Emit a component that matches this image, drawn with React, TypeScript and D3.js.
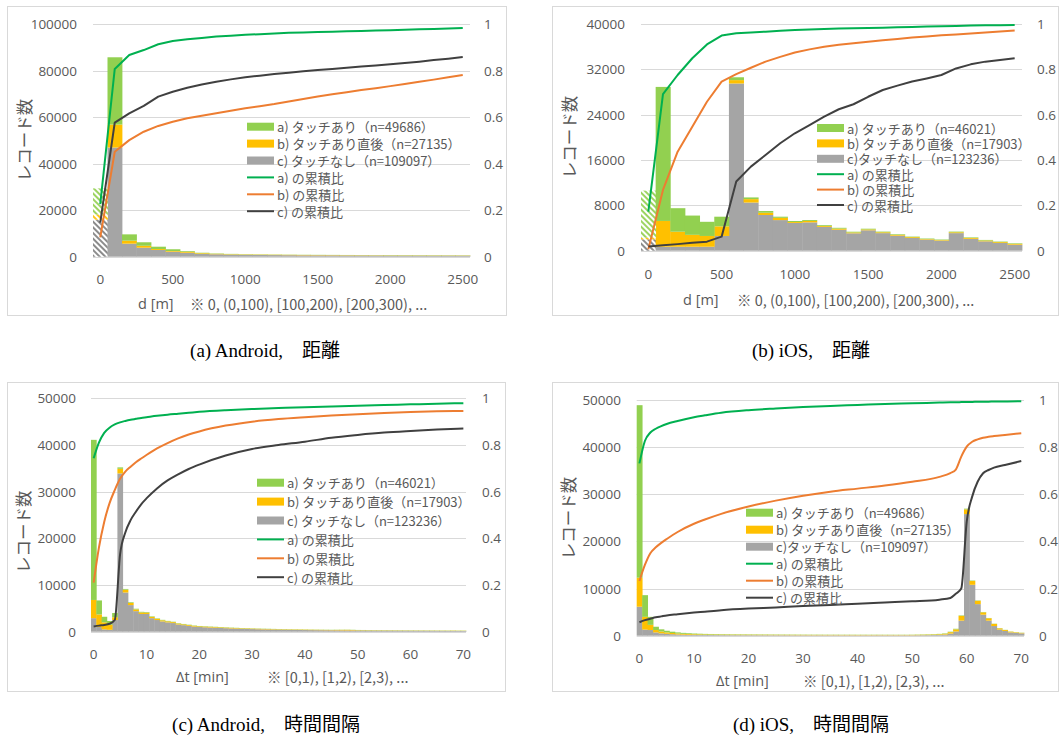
import React from 'react';
import * as d3 from 'd3';

// ---------- categories ----------
const distBins = [0, 100, 200, 300, 400, 500, 600, 700, 800, 900, 1000, 1100, 1200, 1300, 1400, 1500, 1600, 1700, 1800, 1900, 2000, 2100, 2200, 2300, 2400, 2500];
const timeBins = [0, 1, 2, 3, 4, 5, 6, 7, 8, 9, 10, 11, 12, 13, 14, 15, 16, 17, 18, 19, 20, 21, 22, 23, 24, 25, 26, 27, 28, 29, 30, 31, 32, 33, 34, 35, 36, 37, 38, 39, 40, 41, 42, 43, 44, 45, 46, 47, 48, 49, 50, 51, 52, 53, 54, 55, 56, 57, 58, 59, 60, 61, 62, 63, 64, 65, 66, 67, 68, 69, 70];

// ---------- tick labels ----------
const distXTicks = [0, 500, 1000, 1500, 2000, 2500];
const timeXTicks = [0, 10, 20, 30, 40, 50, 60, 70];
const andDistYTicks = [0, 20000, 40000, 60000, 80000, 100000];
const iosDistYTicks = [0, 8000, 16000, 24000, 32000, 40000];
const timeYTicks = [0, 10000, 20000, 30000, 40000, 50000];
const ratioTicks = [0, 0.2, 0.4, 0.6, 0.8, 1];

// ---------- (a) Android, distance ----------
const andDistA = [11200, 28900, 2700, 1500, 1000, 750, 300, 200, 150, 130, 110, 100, 95, 90, 85, 80, 80, 75, 75, 70, 110, 105, 100, 100, 95, 90];
const andDistB = [2250, 9900, 1300, 830, 400, 300, 450, 300, 200, 180, 170, 160, 150, 150, 145, 140, 135, 130, 130, 125, 120, 120, 115, 115, 110, 110];
const andDistC = [15900, 46900, 5600, 3870, 2900, 2150, 1700, 1200, 1050, 900, 800, 750, 700, 650, 600, 580, 560, 540, 520, 500, 480, 470, 460, 450, 440, 430];
const andDistCumA = [0.226, 0.807, 0.867, 0.888, 0.913, 0.927, 0.934, 0.940, 0.946, 0.950, 0.954, 0.956, 0.959, 0.962, 0.964, 0.966, 0.967, 0.969, 0.970, 0.972, 0.973, 0.975, 0.977, 0.979, 0.981, 0.983];
const andDistCumB = [0.083, 0.451, 0.501, 0.537, 0.562, 0.580, 0.595, 0.606, 0.616, 0.627, 0.638, 0.647, 0.656, 0.667, 0.678, 0.688, 0.698, 0.707, 0.716, 0.724, 0.733, 0.742, 0.752, 0.761, 0.771, 0.781];
const andDistCumC = [0.146, 0.576, 0.616, 0.648, 0.688, 0.709, 0.726, 0.740, 0.752, 0.762, 0.771, 0.778, 0.785, 0.791, 0.797, 0.802, 0.807, 0.812, 0.817, 0.822, 0.827, 0.832, 0.838, 0.845, 0.851, 0.858];

// ---------- (b) iOS, distance ----------
const iosDistA = [8300, 23650, 4150, 3400, 2500, 1700, 500, 300, 300, 200, 180, 160, 150, 140, 130, 130, 120, 110, 100, 100, 100, 120, 100, 100, 100, 100];
const iosDistB = [300, 4550, 2650, 2100, 1900, 1700, 600, 600, 400, 400, 160, 250, 150, 200, 150, 150, 150, 150, 150, 100, 100, 150, 150, 150, 150, 150];
const iosDistC = [2000, 700, 700, 700, 700, 2600, 29500, 8500, 6300, 5400, 4900, 5000, 4200, 3700, 3070, 3600, 3100, 2650, 2240, 1950, 1770, 3100, 2100, 1650, 1360, 1060];
const iosDistCumA = [0.172, 0.691, 0.775, 0.849, 0.910, 0.949, 0.959, 0.963, 0.966, 0.970, 0.974, 0.976, 0.978, 0.980, 0.981, 0.982, 0.984, 0.986, 0.987, 0.989, 0.990, 0.991, 0.993, 0.994, 0.995, 0.996];
const iosDistCumB = [0.006, 0.268, 0.437, 0.547, 0.657, 0.746, 0.779, 0.807, 0.834, 0.855, 0.874, 0.888, 0.900, 0.908, 0.915, 0.922, 0.928, 0.934, 0.940, 0.945, 0.950, 0.954, 0.958, 0.963, 0.967, 0.971];
const iosDistCumC = [0.018, 0.024, 0.029, 0.035, 0.040, 0.062, 0.305, 0.371, 0.422, 0.474, 0.518, 0.554, 0.591, 0.624, 0.646, 0.679, 0.709, 0.728, 0.746, 0.760, 0.775, 0.804, 0.822, 0.834, 0.841, 0.849];

// ---------- (c) Android, time interval ----------
const andTimeA = [34300, 3000, 1200, 800, 900, 300, 160, 150, 140, 130, 120, 110, 100, 100, 95, 90, 85, 80, 80, 75, 75,
  70, 70, 68, 66, 64, 62, 60, 58, 56, 55, 54, 53, 52, 51, 50, 50, 49, 48, 47, 46,
  45, 45, 44, 44, 43, 43, 42, 42, 41, 41, 40, 40, 40, 40, 40, 40, 40, 40, 40, 40,
  40, 40, 40, 40, 40, 40, 40, 40, 40, 40];
const andTimeB = [3900, 2700, 1500, 1100, 600, 1000, 600, 450, 380, 330, 300, 280, 260, 240, 220, 200, 190, 180, 170, 160, 150,
  145, 140, 135, 130, 125, 120, 115, 110, 105, 100, 98, 96, 94, 92, 90, 88, 86, 84, 82, 80,
  78, 76, 74, 72, 70, 90, 110, 120, 100, 70, 68, 66, 64, 62, 60, 58, 56, 54, 52, 50,
  50, 50, 48, 48, 46, 46, 44, 60, 44, 42];
const andTimeC = [2900, 1000, 500, 400, 2500, 33900, 8400, 5700, 4400, 3800, 3800, 2900, 2500, 2200, 2000, 1850, 1550, 1400, 1250, 1100, 1000,
  950, 900, 850, 800, 750, 700, 660, 620, 590, 560, 530, 500, 480, 460, 440, 420, 400, 385, 370, 355,
  340, 330, 320, 310, 300, 290, 280, 275, 270, 265, 260, 250, 245, 240, 235, 230, 225, 220, 215, 210,
  205, 200, 195, 190, 185, 180, 175, 170, 165, 160];
const andTimeCumX = [0, 1, 2, 3, 4, 5, 6, 7, 8, 9, 10, 12, 14, 16, 18, 20, 25, 30, 35, 40, 45, 50, 55, 60, 65, 70];
const andTimeCumA = [0.743, 0.810, 0.852, 0.874, 0.888, 0.897, 0.903, 0.908, 0.912, 0.916, 0.919, 0.925, 0.930, 0.934, 0.938, 0.942, 0.949, 0.954, 0.958, 0.962, 0.965, 0.968, 0.971, 0.974, 0.977, 0.979];
const andTimeCumB = [0.210, 0.360, 0.470, 0.550, 0.607, 0.655, 0.686, 0.707, 0.726, 0.742, 0.757, 0.785, 0.808, 0.828, 0.845, 0.858, 0.883, 0.900, 0.911, 0.919, 0.926, 0.932, 0.937, 0.941, 0.944, 0.946];
const andTimeCumC = [0.022, 0.026, 0.029, 0.034, 0.050, 0.330, 0.425, 0.478, 0.514, 0.546, 0.571, 0.614, 0.648, 0.674, 0.697, 0.716, 0.755, 0.783, 0.800, 0.814, 0.831, 0.843, 0.853, 0.860, 0.866, 0.871];

// ---------- (d) iOS, time interval ----------
const iosTimeA = [36600, 4600, 1700, 700, 450, 350, 280, 230, 200, 170, 150,
  130, 115, 105, 95, 90, 85, 80, 78, 76, 74,
  72, 70, 68, 66, 64, 62, 60, 58, 56, 55,
  54, 53, 52, 51, 50, 50, 49, 49, 48, 48,
  47, 47, 46, 46, 45, 45, 44, 44, 43, 50,
  55, 60, 65, 70, 80, 90, 100, 120, 100, 150,
  100, 80, 70, 60, 50, 50, 45, 45, 40, 40];
const iosTimeB = [6150, 2700, 1100, 500, 400, 300, 250, 210, 180, 160, 140,
  130, 120, 115, 110, 105, 100, 98, 96, 94, 92,
  90, 88, 86, 84, 82, 80, 79, 78, 77, 76,
  75, 74, 73, 72, 71, 70, 70, 69, 69, 68,
  68, 67, 67, 66, 66, 65, 65, 64, 64, 70,
  80, 90, 100, 110, 130, 160, 300, 450, 1000, 1000,
  800, 700, 500, 500, 450, 260, 200, 150, 120, 100];
const iosTimeC = [6150, 1300, 1200, 700, 500, 400, 320, 260, 220, 190, 170,
  160, 150, 145, 140, 135, 130, 128, 126, 124, 122,
  120, 118, 116, 114, 112, 110, 108, 106, 104, 102,
  100, 98, 102, 97, 99, 101, 96, 98, 100, 95,
  100, 97, 99, 102, 98, 100, 97, 101, 99, 100,
  110, 120, 130, 150, 180, 250, 450, 900, 3200, 25800,
  10800, 6700, 4460, 3200, 2050, 1300, 1000, 700, 580, 500];
const iosTimeCumX = [0, 1, 2, 3, 4, 5, 7, 10, 12, 15, 20, 25, 30, 35, 40, 45, 50, 55, 57, 58, 59, 60, 61, 62, 63, 64, 65, 67, 70];
const iosTimeCumA = [0.731, 0.826, 0.862, 0.878, 0.889, 0.898, 0.911, 0.927, 0.935, 0.946, 0.957, 0.964, 0.970, 0.975, 0.979, 0.983, 0.986, 0.989, 0.990, 0.990, 0.991, 0.992, 0.992, 0.993, 0.993, 0.993, 0.994, 0.994, 0.995];
const iosTimeCumB = [0.232, 0.300, 0.350, 0.375, 0.394, 0.410, 0.440, 0.475, 0.493, 0.517, 0.548, 0.573, 0.594, 0.611, 0.624, 0.637, 0.653, 0.674, 0.690, 0.705, 0.760, 0.802, 0.823, 0.833, 0.840, 0.844, 0.847, 0.852, 0.859];
const iosTimeCumC = [0.057, 0.066, 0.072, 0.078, 0.082, 0.086, 0.091, 0.098, 0.102, 0.108, 0.115, 0.120, 0.126, 0.130, 0.136, 0.141, 0.146, 0.153, 0.160, 0.178, 0.200, 0.484, 0.590, 0.653, 0.689, 0.703, 0.713, 0.724, 0.741];

// ---------- legend labels ----------
const legendAndDist = ['a) タッチあり（n=49686）', 'b) タッチあり直後（n=27135）', 'c) タッチなし（n=109097）'];
const legendIosDist = ['a) タッチあり（n=46021）', 'b) タッチあり直後（n=17903）', 'c)タッチなし（n=123236）'];
const legendAndTime = ['a) タッチあり（n=46021）', 'b) タッチあり直後（n=17903）', 'c) タッチなし（n=123236）'];
const legendIosTime = ['a) タッチあり（n=49686）', 'b) タッチあり直後（n=27135）', 'c)タッチなし（n=109097）'];
const legendCum = ['a) の累積比', 'b) の累積比', 'c) の累積比'];

// ---------- style ----------
const BAR_A = '#92D050';
const BAR_B = '#FFC000';
const BAR_C = '#A5A5A5';
const LINE_A = '#00B050';
const LINE_B = '#ED7D31';
const LINE_C = '#404040';
const GRID = '#D9D9D9';
const TXT = '#595959';
const NUM_FONT = "'Open Sans', 'Noto Sans', sans-serif";
const JP_FONT = "'Noto Sans CJK JP', 'Noto Sans', sans-serif";
const CAP_FONT = "'Liberation Serif', 'Noto Sans CJK JP', serif";

type PanelCfg = {
  box: [number, number, number, number];
  x0: number; x1: number; yBase: number; yTop: number;
  bins: number[]; a: number[]; b: number[]; c: number[];
  hatchFirst: boolean;
  yMax: number; yTicks: number[]; xTicks: number[];
  cumX: number[]; cumA: number[]; cumB: number[]; cumC: number[];
  smooth: boolean;
  leftLabelX: number; rightLabelX: number; xTickY: number;
  yTitleX: number; yTitleY: number;
  xTitle1: string; xTitle2: string; xTitleX1: number; xTitleX2: number; xTitleY: number;
  legend: string[]; legX: number; legY: number; legStep: number;
  caption: string; capX: number; capY: number;
};

const Panel = ({ p }: { p: PanelCfg }) => {
  const step = p.bins[1] - p.bins[0];
  const x = d3.scaleLinear().domain([p.bins[0] - step / 2, p.bins[p.bins.length - 1] + step / 2]).range([p.x0, p.x1]);
  const yL = d3.scaleLinear().domain([0, p.yMax]).range([p.yBase, p.yTop]);
  const yR = d3.scaleLinear().domain([0, 1]).range([p.yBase, p.yTop]);
  const rows = p.bins.map((bin, i) => ({ bin, a: p.a[i], b: p.b[i], c: p.c[i] }));
  const stacked = d3.stack<any>().keys(['c', 'b', 'a'])(rows);
  const colors: Record<string, string> = { a: BAR_A, b: BAR_B, c: BAR_C };
  const line = d3.line<[number, number]>()
    .x(d => x(d[0]))
    .y(d => yR(d[1]))
    .curve(p.smooth ? d3.curveMonotoneX : d3.curveLinear);
  const mk = (vals: number[]) => p.cumX.map((cx, i) => [cx, vals[i]] as [number, number]);
  const [bx0, by0, bx1, by1] = p.box;
  const swW = 27;
  return (
    <g>
      <rect x={bx0 + 0.5} y={by0 + 0.5} width={bx1 - bx0} height={by1 - by0} fill="#fff" stroke={GRID} strokeWidth={1} />
      {p.yTicks.map(t => (
        <line key={'g' + t} x1={p.x0} x2={p.x1} y1={Math.round(yL(t)) + 0.5} y2={Math.round(yL(t)) + 0.5} stroke={GRID} strokeWidth={1} />
      ))}
      {stacked.map(s => (
        <g key={s.key}>
          {s.map((d, i) => {
            const bin = p.bins[i];
            const left = x(bin - step / 2);
            const right = x(bin + step / 2);
            const top = yL(d[1]);
            const bottom = yL(d[0]);
            const fill = p.hatchFirst && i === 0 ? `url(#hatch-${s.key})` : colors[s.key];
            return <rect key={i} x={left} width={right - left + 0.4} y={top} height={Math.max(0, bottom - top)} fill={fill} />;
          })}
        </g>
      ))}
      <path d={line(mk(p.cumB)) || ''} fill="none" stroke={LINE_B} strokeWidth={2} strokeLinejoin="round" />
      <path d={line(mk(p.cumC)) || ''} fill="none" stroke={LINE_C} strokeWidth={2} strokeLinejoin="round" />
      <path d={line(mk(p.cumA)) || ''} fill="none" stroke={LINE_A} strokeWidth={2} strokeLinejoin="round" />
      {p.yTicks.map(t => (
        <text key={'l' + t} x={p.leftLabelX} y={yL(t)} textAnchor="end" dominantBaseline="central" fontFamily={NUM_FONT} fontSize={13.5} fill={TXT}>{t}</text>
      ))}
      {ratioTicks.map(t => (
        <text key={'r' + t} x={p.rightLabelX} y={yR(t)} textAnchor="start" dominantBaseline="central" fontFamily={NUM_FONT} fontSize={13.5} fill={TXT}>{String(t)}</text>
      ))}
      {p.xTicks.map(t => (
        <text key={'x' + t} x={x(t)} y={p.xTickY} textAnchor="middle" dominantBaseline="central" fontFamily={NUM_FONT} fontSize={13.5} fill={TXT}>{t}</text>
      ))}
      <text x={p.xTitleX1} y={p.xTitleY} dominantBaseline="central" fontFamily={NUM_FONT} fontSize={14.5} fill={TXT}>{p.xTitle1}</text>
      <text x={p.xTitleX2} y={p.xTitleY} dominantBaseline="central" fontFamily={JP_FONT} fontSize={14.5} fill={TXT}>{p.xTitle2}</text>
      <text transform={`translate(${p.yTitleX},${p.yTitleY}) rotate(-90)`} textAnchor="middle" dominantBaseline="central" fontFamily={JP_FONT} fontSize={16.5} fill={TXT}>レコード数</text>
      {[BAR_A, BAR_B, BAR_C].map((c, i) => (
        <g key={'lb' + i}>
          <rect x={p.legX} y={p.legY + i * p.legStep - 4} width={swW} height={8} fill={c} />
          <text x={p.legX + swW + 3} y={p.legY + i * p.legStep} dominantBaseline="central" fontFamily={JP_FONT} fontSize={13} fill={TXT}>{p.legend[i]}</text>
        </g>
      ))}
      {[LINE_A, LINE_B, LINE_C].map((c, i) => (
        <g key={'ll' + i}>
          <line x1={p.legX} x2={p.legX + swW} y1={p.legY + (i + 3) * p.legStep} y2={p.legY + (i + 3) * p.legStep} stroke={c} strokeWidth={2} />
          <text x={p.legX + swW + 3} y={p.legY + (i + 3) * p.legStep} dominantBaseline="central" fontFamily={JP_FONT} fontSize={13} fill={TXT}>{legendCum[i]}</text>
        </g>
      ))}
      <text x={p.capX} y={p.capY} textAnchor="middle" dominantBaseline="central" fontFamily={CAP_FONT} fontSize={19} fill="#000">{p.caption}</text>
    </g>
  );
};

const panels: PanelCfg[] = [
  {
    box: [7, 6, 506, 315], x0: 93, x1: 470, yBase: 256.7, yTop: 24,
    bins: distBins, a: andDistA, b: andDistB, c: andDistC, hatchFirst: true,
    yMax: 100000, yTicks: andDistYTicks, xTicks: distXTicks,
    cumX: distBins, cumA: andDistCumA, cumB: andDistCumB, cumC: andDistCumC, smooth: false,
    leftLabelX: 77, rightLabelX: 484, xTickY: 279, yTitleX: 24, yTitleY: 140,
    xTitle1: 'd [m]', xTitle2: '※ 0, (0,100), [100,200), [200,300), ...', xTitleX1: 138, xTitleX2: 190, xTitleY: 303,
    legend: legendAndDist, legX: 247, legY: 126.7, legStep: 16.9,
    caption: '(a) Android,\u3000距離', capX: 265, capY: 350,
  },
  {
    box: [552, 6, 1058, 315], x0: 641, x1: 1022, yBase: 250.7, yTop: 24,
    bins: distBins, a: iosDistA, b: iosDistB, c: iosDistC, hatchFirst: true,
    yMax: 40000, yTicks: iosDistYTicks, xTicks: distXTicks,
    cumX: distBins, cumA: iosDistCumA, cumB: iosDistCumB, cumC: iosDistCumC, smooth: false,
    leftLabelX: 625, rightLabelX: 1037, xTickY: 274, yTitleX: 569, yTitleY: 137,
    xTitle1: 'd [m]', xTitle2: '※ 0, (0,100), [100,200), [200,300), ...', xTitleX1: 683, xTitleX2: 737, xTitleY: 299,
    legend: legendIosDist, legX: 817, legY: 128, legStep: 15.4,
    caption: '(b) iOS,\u3000距離', capX: 811, capY: 350,
  },
  {
    box: [7, 382, 505, 691], x0: 91, x1: 466, yBase: 631.7, yTop: 398.3,
    bins: timeBins, a: andTimeA, b: andTimeB, c: andTimeC, hatchFirst: false,
    yMax: 50000, yTicks: timeYTicks, xTicks: timeXTicks,
    cumX: andTimeCumX, cumA: andTimeCumA, cumB: andTimeCumB, cumC: andTimeCumC, smooth: true,
    leftLabelX: 76, rightLabelX: 482, xTickY: 654.3, yTitleX: 23, yTitleY: 531.7,
    xTitle1: 'Δt [min]', xTitle2: '※ [0,1), [1,2), [2,3), ...', xTitleX1: 176, xTitleX2: 267, xTitleY: 676.7,
    legend: legendAndTime, legX: 257, legY: 482.7, legStep: 18.9,
    caption: '(c) Android,\u3000時間間隔', capX: 266, capY: 724,
  },
  {
    box: [552, 382, 1058, 691], x0: 636.7, x1: 1024, yBase: 635.7, yTop: 400,
    bins: timeBins, a: iosTimeA, b: iosTimeB, c: iosTimeC, hatchFirst: false,
    yMax: 50000, yTicks: timeYTicks, xTicks: timeXTicks,
    cumX: iosTimeCumX, cumA: iosTimeCumA, cumB: iosTimeCumB, cumC: iosTimeCumC, smooth: true,
    leftLabelX: 621, rightLabelX: 1039, xTickY: 658.3, yTitleX: 568, yTitleY: 518,
    xTitle1: 'Δt [min]', xTitle2: '※ [0,1), [1,2), [2,3), ...', xTitleX1: 716, xTitleX2: 803, xTitleY: 680,
    legend: legendIosTime, legX: 746, legY: 512.7, legStep: 17,
    caption: '(d) iOS,\u3000時間間隔', capX: 811, capY: 724,
  },
];

const Hatch = ({ id, color }: { id: string; color: string }) => (
  <pattern id={id} patternUnits="userSpaceOnUse" width={4} height={4} patternTransform="rotate(-45)">
    <rect width={4} height={4} fill="#fff" />
    <line x1={1} y1={0} x2={1} y2={4} stroke={color} strokeWidth={1.8} />
  </pattern>
);

export default function App() {
  return (
    <div style={{ position: 'absolute', left: 0, top: 0 }}>
      <svg width={1062} height={739} style={{ display: 'block', background: '#fff' }}>
        <defs>
          <Hatch id="hatch-a" color={BAR_A} />
          <Hatch id="hatch-b" color={BAR_B} />
          <Hatch id="hatch-c" color="#7F7F7F" />
        </defs>
        {panels.map((p, i) => <Panel key={i} p={p} />)}
      </svg>
    </div>
  );
}
